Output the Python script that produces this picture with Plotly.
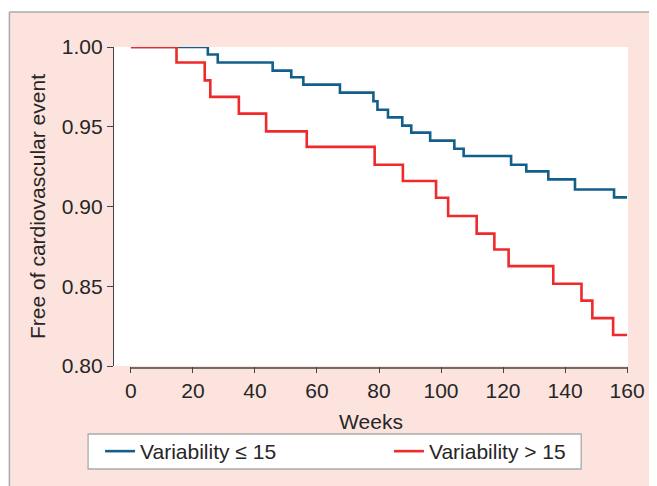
import plotly.graph_objects as go

# Kaplan-Meier style step data (weeks, survival)
weeks_low = [0, 24.8, 28.0, 45.7, 51.7, 55.6, 67.4, 78.2, 79.5, 82.9, 87.5, 90.4,
             96.5, 104.3, 107.3, 122.6, 127.5, 134.6, 143.2, 155.8, 160]
surv_low = [1.0, 0.9953, 0.9903, 0.9852, 0.981, 0.9764, 0.9714, 0.966, 0.9607, 0.9559,
            0.9507, 0.9463, 0.9413, 0.9362, 0.9317, 0.9262, 0.922, 0.917, 0.9107,
            0.9057, 0.9057]

weeks_high = [0, 14.7, 23.8, 25.6, 34.8, 43.6, 56.7, 78.6, 87.7, 98.4, 102.3, 111.5,
              117.2, 121.8, 136.2, 145.3, 148.8, 155.5, 160]
surv_high = [1.0, 0.9903, 0.9791, 0.9687, 0.9582, 0.9471, 0.9374, 0.9262, 0.916,
             0.9055, 0.894, 0.883, 0.873, 0.8626, 0.8516, 0.841, 0.830, 0.8194, 0.8194]

series_names = ["Variability \u2264 15", "Variability > 15"]
x_ticks = [0, 20, 40, 60, 80, 100, 120, 140, 160]
y_ticks = [0.80, 0.85, 0.90, 0.95, 1.00]
y_tick_labels = ["0.80", "0.85", "0.90", "0.95", "1.00"]

BLUE = "#135f8c"
RED = "#ee2a2a"
PINK = "#fde3dd"
AXC = "#444444"
TXT = "#262626"
FONT = "Liberation Sans, Arial, sans-serif"
FS = 21

# page has an 8px body margin; work in figure pixel coordinates
W, H = 649, 478
L, R, T, B = 106, 27, 39, 120
pw, ph = W - L - R, H - T - B

def px_x(p):
    return (p - L) / pw

def px_y(p):
    return (H - B - p) / ph

fig = go.Figure()
fig.add_trace(go.Scatter(x=weeks_low, y=surv_low, mode="lines", line_shape="hv",
                         line=dict(color=BLUE, width=2.6), name=series_names[0],
                         legend="legend"))
fig.add_trace(go.Scatter(x=weeks_high, y=surv_high, mode="lines", line_shape="hv",
                         line=dict(color=RED, width=2.6), name=series_names[1],
                         legend="legend2"))

shapes = [
    # white strips outside the pink frame
    dict(type="rect", xref="paper", yref="paper", x0=px_x(-5), x1=px_x(1),
         y0=px_y(H + 5), y1=px_y(-5), fillcolor="white", line=dict(width=0)),
    dict(type="rect", xref="paper", yref="paper", x0=px_x(-5), x1=px_x(W + 5),
         y0=px_y(4), y1=px_y(-5), fillcolor="white", line=dict(width=0)),
    # frame border lines (left and top)
    dict(type="line", xref="paper", yref="paper", x0=px_x(1), x1=px_x(1),
         y0=px_y(4), y1=px_y(H + 5), line=dict(color="#aaaaaa", width=1.5)),
    dict(type="line", xref="paper", yref="paper", x0=px_x(1), x1=px_x(W + 5),
         y0=px_y(4), y1=px_y(4), line=dict(color="#aaaaaa", width=1.5)),
    # x axis line spanning the tick range only
    dict(type="line", xref="x", yref="paper", x0=0, x1=160,
         y0=px_y(360), y1=px_y(360), line=dict(color=AXC, width=1.3)),
    # legend box
    dict(type="rect", xref="paper", yref="paper", x0=px_x(80), x1=px_x(575),
         y0=px_y(461), y1=px_y(426), fillcolor="white",
         line=dict(color="#aaaaaa", width=1.3)),
]

leg_common = dict(orientation="h", xanchor="left", yanchor="middle",
                  bgcolor="rgba(0,0,0,0)", borderwidth=0,
                  font=dict(family=FONT, size=FS, color=TXT))

fig.update_layout(
    width=W, height=H,
    margin=dict(l=L, r=R, t=T, b=B),
    paper_bgcolor=PINK, plot_bgcolor="white",
    font=dict(family=FONT, size=FS, color=TXT),
    shapes=shapes,
    showlegend=True,
    legend=dict(x=px_x(92), y=px_y(443.5), **leg_common),
    legend2=dict(x=px_x(382), y=px_y(443.5), **leg_common),
    xaxis=dict(range=[-5.46, 160.3], tickvals=x_ticks, ticks="outside", ticklen=6,
               tickcolor=AXC, tickwidth=1.3, showline=False, showgrid=False,
               zeroline=False,
               title=dict(text="Weeks", standoff=13,
                          font=dict(family=FONT, size=FS, color=TXT)),
               tickfont=dict(size=FS)),
    yaxis=dict(range=[0.80, 1.00], tickvals=y_ticks, ticktext=y_tick_labels,
               ticks="outside", ticklen=6, tickcolor=AXC, tickwidth=1.3,
               showline=True, linecolor=AXC, linewidth=1.3, showgrid=False,
               zeroline=False,
               title=dict(text="Free of cardiovascular event", standoff=10,
                          font=dict(family=FONT, size=FS, color=TXT)),
               tickfont=dict(size=FS)),
)

fig.write_html("out.html")
